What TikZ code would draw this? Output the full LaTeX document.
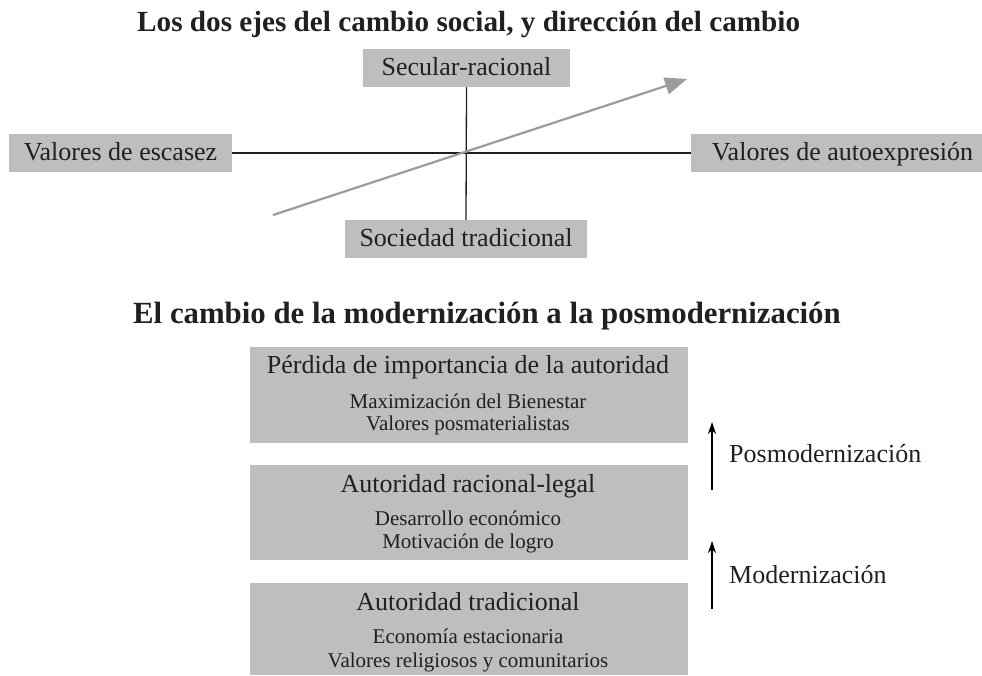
\documentclass[tikz,border=0pt]{standalone}
\usepackage{fontspec}
\setmainfont{Liberation Serif}
\usetikzlibrary{arrows.meta}
\definecolor{boxgray}{HTML}{BCBEC0}
\definecolor{arrgray}{HTML}{9A9B9D}
\definecolor{ink}{HTML}{231F20}
\tikzset{
  gbox/.style={fill=boxgray, draw=none, inner sep=0pt, rectangle},
  lbl/.style={font=\fontsize{26}{30}\selectfont, text=ink, inner sep=0pt, anchor=base},
  sublbl/.style={font=\fontsize{21}{25}\selectfont, text=ink, inner sep=0pt, anchor=base},
  ttl/.style={font=\fontsize{29.2}{34}\selectfont\bfseries, text=ink, inner sep=0pt, anchor=base west},
  axis/.style={draw=ink, line width=1.3pt},
  dirarrow/.style={draw=arrgray, line width=2.2pt, -{Triangle[length=22pt,width=17pt]}},
  uparrow/.style={draw=black, line width=1.2pt, -{Stealth[length=12pt,width=8pt]}}
}
\begin{document}
\begin{tikzpicture}[x=1pt,y=-1pt]
\useasboundingbox (0,0) rectangle (982,676);
% titles
\node[ttl] (t1) at (137,32) {Los dos ejes del cambio social, y dirección del cambio};
\node[ttl, font=\fontsize{30.8}{35}\selectfont\bfseries] (t2) at (133,323) {El cambio de la modernización a la posmodernización};
% top diagram boxes
\node[gbox, minimum width=207pt, minimum height=38pt] (sec) at (466.5,68) {};
\node[gbox, minimum width=242pt, minimum height=38pt] (soc) at (466,239) {};
\node[gbox, minimum width=223pt, minimum height=38pt] (esc) at (120.5,153) {};
\node[gbox, minimum width=291pt, minimum height=38pt] (aut) at (836.5,153) {};
\node[lbl] (secT) at (466.5,76) {Secular-racional};
\node[lbl] (socT) at (466,247) {Sociedad tradicional};
\node[lbl] (escT) at (120.5,161) {Valores de escasez};
\node[lbl] (autT) at (842.5,161) {Valores de autoexpresión};
% axes
\draw[axis] (sec.south) -- (soc.north);
\draw[axis] (esc.east) -- (aut.west);
% direction arrow
\coordinate (d0) at (273,215);
\coordinate (d1) at (687,79);
\draw[dirarrow] (d0) -- (d1);
% bottom boxes
\node[gbox, minimum width=438pt, minimum height=96pt] (b1) at (469,395) {};
\node[gbox, minimum width=438pt, minimum height=95pt] (b2) at (469,512.5) {};
\node[gbox, minimum width=438pt, minimum height=92pt] (b3) at (469,629) {};
\node[lbl] (b1a) at (468,373) {Pérdida de importancia de la autoridad};
\node[sublbl] (b1b) at (468,408) {Maximización del Bienestar};
\node[sublbl] (b1c) at (468,430) {Valores posmaterialistas};
\node[lbl] (b2a) at (468,492) {Autoridad racional-legal};
\node[sublbl] (b2b) at (468,525) {Desarrollo económico};
\node[sublbl] (b2c) at (468,548) {Motivación de logro};
\node[lbl] (b3a) at (468,610) {Autoridad tradicional};
\node[sublbl] (b3b) at (468,643) {Economía estacionaria};
\node[sublbl] (b3c) at (468,667) {Valores religiosos y comunitarios};
% side arrows
\coordinate (p0) at (712,490);
\coordinate (p1) at (712,422);
\coordinate (m0) at (712,609);
\coordinate (m1) at (712,541);
\draw[uparrow] (p0) -- (p1);
\draw[uparrow] (m0) -- (m1);
\node[lbl, anchor=base west] (pl) at (729,462) {Posmodernización};
\node[lbl, anchor=base west] (ml) at (729,583) {Modernización};
\end{tikzpicture}
\end{document}
